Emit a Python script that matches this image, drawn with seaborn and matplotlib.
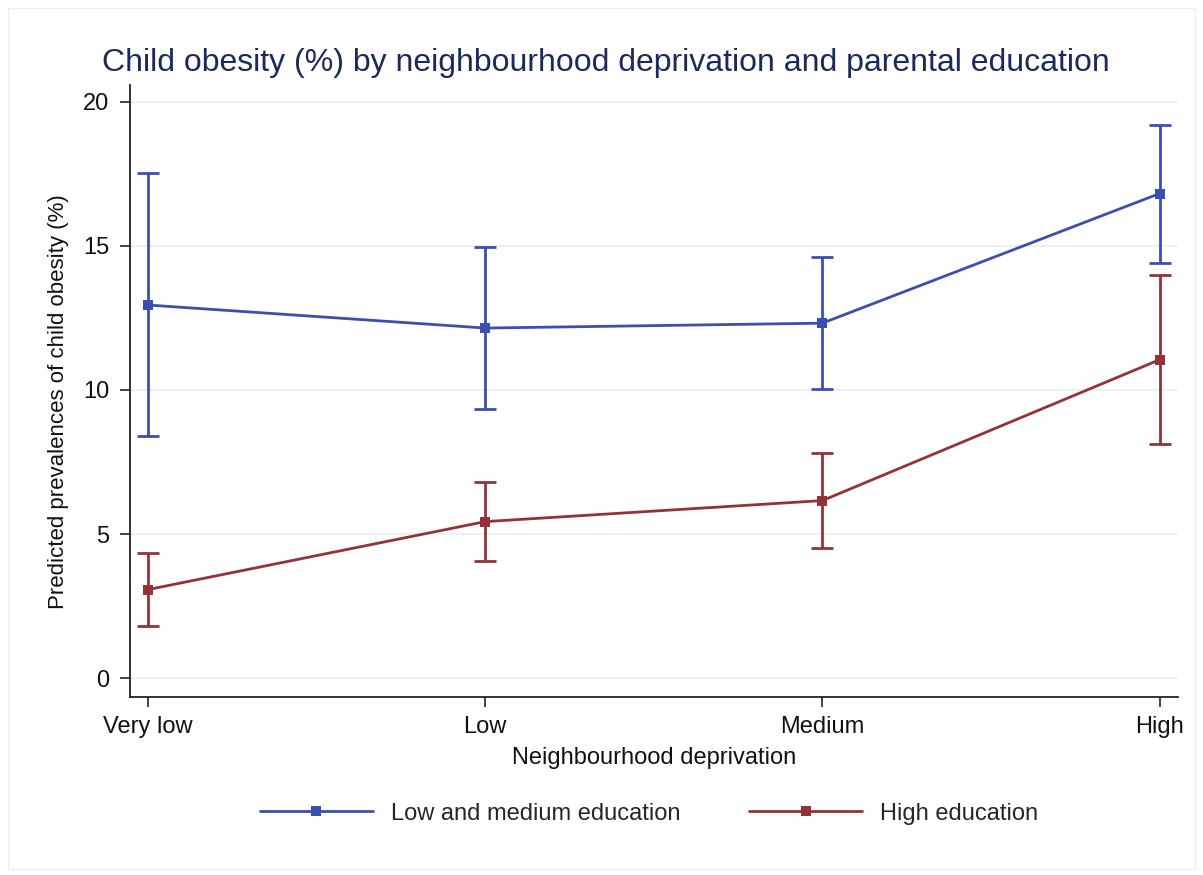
import matplotlib
matplotlib.use("Agg")
import matplotlib.pyplot as plt
from matplotlib.lines import Line2D
from matplotlib.patches import Rectangle
import numpy as np
import pandas as pd
import seaborn as sns

# Predicted prevalences (%) with 95% confidence limits
deprivation = ["Very low", "Low", "Medium", "High"]
low_med_edu = [12.95, 12.15, 12.32, 16.82]
low_med_lo = [8.40, 9.35, 10.02, 14.40]
low_med_hi = [17.52, 14.97, 14.62, 19.20]
high_edu = [3.07, 5.43, 6.16, 11.05]
high_lo = [1.80, 4.05, 4.50, 8.12]
high_hi = [4.33, 6.80, 7.80, 13.98]
groups = ["Low and medium education", "High education"]
colors = {"Low and medium education": "#3b4fb2", "High education": "#943238"}
yticks = [0, 5, 10, 15, 20]

df = pd.DataFrame({
    "x": list(range(len(deprivation))) * 2,
    "prev": low_med_edu + high_edu,
    "lo": low_med_lo + high_lo,
    "hi": low_med_hi + high_hi,
    "group": [groups[0]] * 4 + [groups[1]] * 4,
})

sns.set_theme(style="white")
plt.rcParams["font.family"] = ["Liberation Sans", "DejaVu Sans"]

fig = plt.figure(figsize=(12.03, 8.75), dpi=100)
ax = fig.add_axes([0.108, 0.2034, 0.871, 0.6995])

for g in groups:
    sub = df[df["group"] == g]
    ax.errorbar(sub["x"], sub["prev"],
                yerr=[sub["prev"] - sub["lo"], sub["hi"] - sub["prev"]],
                fmt="none", ecolor=colors[g], elinewidth=2.0, capsize=8,
                capthick=2.0, zorder=3)

sns.lineplot(data=df, x="x", y="prev", hue="group", palette=colors,
             marker="s", markersize=7.5, markeredgewidth=0, linewidth=2.0,
             legend=False, ax=ax, zorder=4)

ax.set_xlim(-0.0534, 3.054)
ax.set_ylim(-0.66, 20.59)
ax.set_xticks(range(len(deprivation)))
ax.set_xticklabels(deprivation)
ax.set_yticks(yticks)
ax.yaxis.grid(True, color="#e6eef2", linewidth=1.2)
ax.set_axisbelow(True)

for side in ["top", "right"]:
    ax.spines[side].set_visible(False)
for side in ["left", "bottom"]:
    ax.spines[side].set_color("#222222")
    ax.spines[side].set_linewidth(1.3)

ax.tick_params(axis="both", which="major", direction="out", length=7,
               width=1.2, color="#222222", labelsize=17, labelcolor="#111111",
               left=True, bottom=True)
ax.tick_params(axis="y", pad=8)
ax.tick_params(axis="x", pad=7)

ax.set_xlabel("Neighbourhood deprivation", fontsize=17, color="#111111",
              labelpad=6)
ax.set_ylabel("Predicted prevalences of child obesity (%)", fontsize=16,
              color="#111111")
ax.yaxis.set_label_coords(-0.0585, 0.482)

fig.text(0.504, 0.928, "Child obesity (%) by neighbourhood deprivation and parental education",
         ha="center", va="center", fontsize=23, color="#1b2a5c")

handles = [Line2D([0], [0], color=colors[g], linewidth=2.0, marker="s",
                  markersize=7.5, markeredgewidth=0) for g in groups]
fig.legend(handles, groups, loc="center", bbox_to_anchor=(0.5395, 0.07),
           ncol=2, frameon=False, fontsize=17, handlelength=4.8,
           columnspacing=2.9, handletextpad=0.76)

fig.add_artist(Rectangle((0.007, 0.007), 0.986, 0.984, transform=fig.transFigure,
                         fill=False, edgecolor="#eeeeee", linewidth=1.0))

fig.savefig("out.png", dpi=100, facecolor="white")
